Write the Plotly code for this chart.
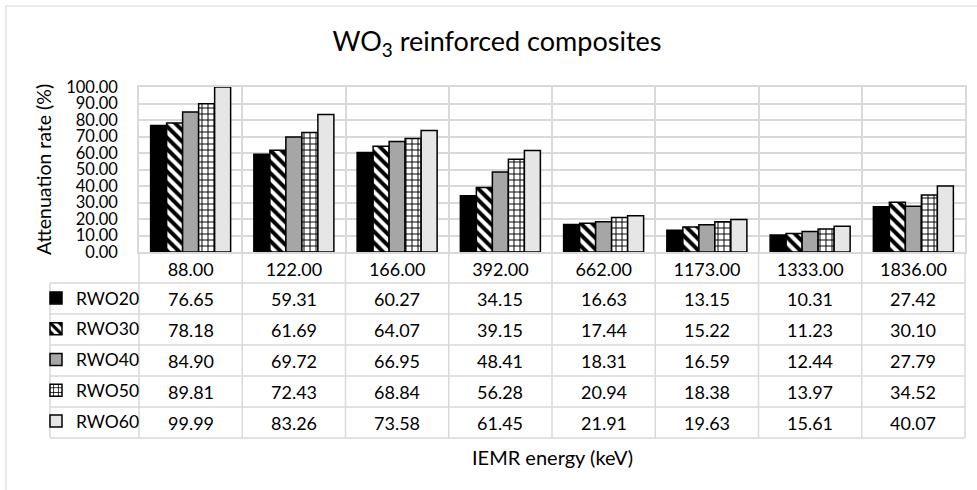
import plotly.graph_objects as go

energies = [88.00, 122.00, 166.00, 392.00, 662.00, 1173.00, 1333.00, 1836.00]
series_names = ["RWO20", "RWO30", "RWO40", "RWO50", "RWO60"]
rwo20 = [76.65, 59.31, 60.27, 34.15, 16.63, 13.15, 10.31, 27.42]
rwo30 = [78.18, 61.69, 64.07, 39.15, 17.44, 15.22, 11.23, 30.10]
rwo40 = [84.90, 69.72, 66.95, 48.41, 18.31, 16.59, 12.44, 27.79]
rwo50 = [89.81, 72.43, 68.84, 56.28, 20.94, 18.38, 13.97, 34.52]
rwo60 = [99.99, 83.26, 73.58, 61.45, 21.91, 19.63, 15.61, 40.07]
series_values = [rwo20, rwo30, rwo40, rwo50, rwo60]

FONT = "Lato"
W, H = 977, 490
L, R, T, B = 139, 12, 87, 238
PW = W - L - R
PH = H - T - B
GRID = "#D9D9D9"

def px_x(p):
    return (p - L) / PW

def px_y(p):
    return (H - B - p) / PH

cats = [f"{e:.2f}" for e in energies]

styles = [
    dict(color="#000000"),
    dict(color="#FFFFFF", pattern=dict(shape="\\", fgcolor="#000000", bgcolor="#FFFFFF", size=8, solidity=0.5, fillmode="replace")),
    dict(color="#A6A6A6"),
    dict(color="#FFFFFF", pattern=dict(shape="+", fgcolor="#000000", bgcolor="#FFFFFF", size=6, solidity=0.3, fillmode="replace")),
    dict(color="#E7E6E6"),
]

fig = go.Figure()
for i, (name, vals) in enumerate(zip(series_names, series_values)):
    m = dict(styles[i])
    m["line"] = dict(color="#000000", width=1.5)
    fig.add_trace(go.Bar(x=cats, y=vals, name=name, marker=m, legendgroup=name,
                         hoverinfo="x+y+name"))

shapes = []
# outer chart border
shapes.append(dict(type="rect", xref="paper", yref="paper", x0=px_x(6), y0=px_y(6),
                   x1=px_x(W + 20), y1=px_y(H + 20), line=dict(color=GRID, width=1.2)))
# table lines
row_lines = [283, 314, 345, 376, 407, 438]
for yy in row_lines:
    shapes.append(dict(type="line", xref="paper", yref="paper", x0=px_x(50), x1=1,
                       y0=px_y(yy), y1=px_y(yy), line=dict(color=GRID, width=1.5)))
for i in range(len(cats) + 1):
    shapes.append(dict(type="line", xref="paper", yref="paper", x0=i / len(cats), x1=i / len(cats),
                       y0=0, y1=px_y(438), line=dict(color=GRID, width=1.5)))
shapes.append(dict(type="line", xref="paper", yref="paper", x0=px_x(50), x1=px_x(50),
                   y0=px_y(283), y1=px_y(438), line=dict(color=GRID, width=1.5)))

annotations = []
row_centers = [298.5, 329.5, 360.5, 391.5, 422.5]
for r, vals in enumerate(series_values):
    for j, v in enumerate(vals):
        annotations.append(dict(x=j, xref="x", y=px_y(row_centers[r]), yref="paper",
                                text=f"{v:.2f}", showarrow=False,
                                font=dict(family=FONT, size=18, color="#000000"),
                                xanchor="center", yanchor="middle"))
annotations.append(dict(x=0.5, xref="paper", y=px_y(457), yref="paper",
                        text="IEMR energy (keV)", showarrow=False,
                        font=dict(family=FONT, size=20, color="#000000"),
                        xanchor="center", yanchor="middle"))

fig.update_layout(
    width=W, height=H,
    margin=dict(l=L, r=R, t=T, b=B, autoexpand=False),
    paper_bgcolor="#FFFFFF", plot_bgcolor="#FFFFFF",
    font=dict(family=FONT, size=18, color="#000000"),
    title=dict(text="WO<sub>3</sub> reinforced composites", x=497 / W, xref="container",
               y=1 - 42 / H, yref="container", xanchor="center", yanchor="middle",
               font=dict(family=FONT, size=27, color="#000000")),
    barmode="group", bargap=0.225, bargroupgap=0,
    showlegend=True,
    legend=dict(x=px_x(36), y=px_y(280), xref="paper", yref="paper",
                xanchor="left", yanchor="top", tracegroupgap=5,
                font=dict(family=FONT, size=17.5), bgcolor="rgba(0,0,0,0)",
                itemclick=False, itemdoubleclick=False),
    xaxis=dict(type="category", range=[-0.5, len(cats) - 0.5], tickson="boundaries",
               showgrid=True, gridcolor=GRID, gridwidth=1.5,
               showline=True, linecolor=GRID, linewidth=1.5, mirror=True, ticks="",
               tickfont=dict(family=FONT, size=18), ticklabelstandoff=1),
    yaxis=dict(range=[0, 100], dtick=10, tickformat=".2f", showgrid=True, gridcolor=GRID,
               gridwidth=1.5, showline=True, linecolor=GRID, linewidth=1.5, mirror=True,
               zeroline=False, ticks="", ticklabelstandoff=16,
               tickfont=dict(family=FONT, size=16.5),
               title=dict(text="Attenuation rate (%)", standoff=9,
                          font=dict(family=FONT, size=19.5))),
    shapes=shapes,
    annotations=annotations,
)

fig.write_html("out.html")
